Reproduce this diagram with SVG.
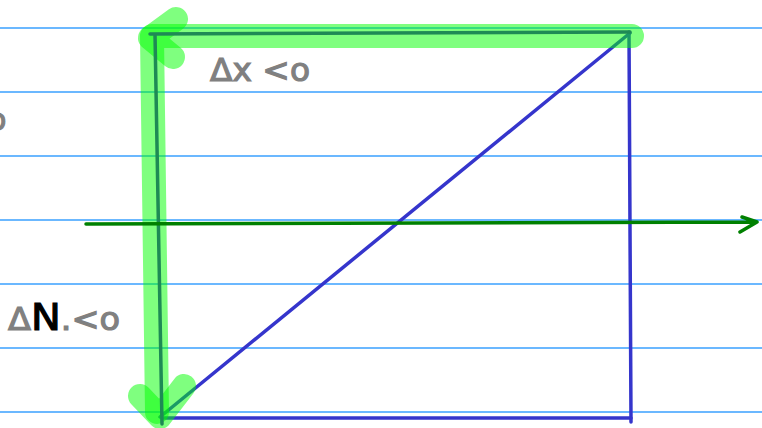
<svg xmlns="http://www.w3.org/2000/svg" width="762" height="428" viewBox="0 0 762 428">
<style>
.rule{stroke:#3aa0ff;stroke-width:1.5}
.hl{fill:none;stroke:#00ff00;stroke-opacity:0.5;stroke-width:24;stroke-linecap:round;stroke-linejoin:round}
.dk{fill:none;stroke:#1e8a55;stroke-width:3.5;stroke-linecap:round}
.bl{fill:none;stroke:#3535cc;stroke-width:3.5;stroke-linecap:round}
.ax{fill:none;stroke:#008000;stroke-width:3.5;stroke-linecap:round;stroke-linejoin:round}
.t{font-family:"DejaVu Sans","Liberation Sans",sans-serif;fill:#808080;stroke:#808080;stroke-width:1.2}
</style>
<rect width="762" height="428" fill="#ffffff"/>
<g id="rules">
<line class="rule" x1="0" y1="28" x2="762" y2="28"/>
<line class="rule" x1="0" y1="92" x2="762" y2="92"/>
<line class="rule" x1="0" y1="156" x2="762" y2="156"/>
<line class="rule" x1="0" y1="220" x2="762" y2="220"/>
<line class="rule" x1="0" y1="284" x2="762" y2="284"/>
<line class="rule" x1="0" y1="348" x2="762" y2="348"/>
<line class="rule" x1="0" y1="412" x2="762" y2="412"/>
</g>
<g id="blue">
<line class="bl" x1="629" y1="32" x2="631" y2="422"/>
<line class="bl" x1="162" y1="418" x2="631" y2="418"/>
<line class="bl" x1="160" y1="417" x2="630" y2="33"/>
</g>
<g id="highlight">
<path class="hl" d="M632,36 L152,36 L157,412"/>
<path class="hl" d="M176,19 L150,38 L173,57"/>
<path class="hl" d="M140,396 L160,417 L184,386"/>
</g>
<g id="dark">
<path class="dk" d="M630,32 L150,34 M155,34 L162,424"/>
</g>
<g id="axis">
<path class="ax" d="M86,224 L757,222 M740,232 L757,222 L742,217"/>
</g>
<g id="labels">
<text class="t" x="210" y="81" font-size="32" textLength="100" lengthAdjust="spacingAndGlyphs">Δx &lt;o</text>
<text class="t" x="8" y="330" font-size="32" textLength="112" lengthAdjust="spacingAndGlyphs">Δ<tspan fill="#000000" stroke="#000000" font-size="38">N</tspan>.&lt;o</text>
<text class="t" x="-12" y="130" font-size="30">o</text>
</g>
</svg>
